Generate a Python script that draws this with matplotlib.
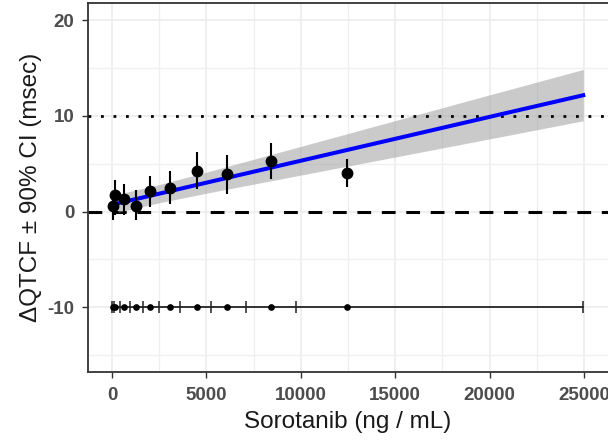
import matplotlib
matplotlib.use("Agg")
import matplotlib.pyplot as plt
import numpy as np

# ---- data ----
conc_bins = [30, 160, 610, 1295, 2030, 3095, 4515, 6100, 8410, 12455]        # ng/mL (decile medians)
dqtcf = [0.63, 1.75, 1.30, 0.63, 2.10, 2.45, 4.26, 3.91, 5.31, 4.08]        # msec
dqtcf_lo = [-0.9, -0.35, -0.35, -0.87, 0.53, 0.80, 2.34, 1.82, 3.42, 2.62]
dqtcf_hi = [1.93, 3.25, 2.90, 2.27, 3.74, 4.26, 6.22, 5.86, 7.16, 5.52]

decile_edges = [0, 90, 410, 930, 1640, 2500, 3620, 5220, 7100, 9770, 24930]  # ng/mL

fit_x = [330, 2500, 5000, 10000, 15000, 20000, 24960]
fit_y = [0.88, 1.87, 3.02, 5.31, 7.60, 9.89, 12.15]
fit_lo = [-0.07, 0.92, 1.92, 3.81, 5.70, 7.59, 9.48]
fit_hi = [1.83, 2.82, 4.12, 6.81, 9.50, 12.19, 14.84]

ref_dotted = 10
ref_dashed = 0
rug_y = -10

x_major = [0, 5000, 10000, 15000, 20000, 25000]
x_minor = [2500, 7500, 12500, 17500, 22500]
y_major = [-10, 0, 10, 20]
y_minor = [-15, -5, 5, 15]

# ---- figure ----
plt.rcParams['font.family'] = ['Liberation Sans', 'DejaVu Sans']
plt.rcParams['axes.unicode_minus'] = False
fig = plt.figure(figsize=(6.08, 4.47), dpi=100)
W, H = 608, 447
ax = fig.add_axes([88.4 / W, (H - 372) / H, 519.2 / W, 368.7 / H])
ax.set_xlim(-1250, 26250)
ax.set_ylim(-16.75, 21.75)

ax.set_xticks(x_major)
ax.set_xticks(x_minor, minor=True)
ax.set_yticks(y_major)
ax.set_yticks(y_minor, minor=True)
ax.grid(True, which='major', color='#EBEBEB', lw=1.1, zorder=0)
ax.grid(True, which='minor', color='#EFEFEF', lw=0.9, zorder=0)
ax.set_axisbelow(True)
ax.tick_params(which='minor', length=0)
ax.tick_params(which='major', length=4.5, width=1.0, color='#333333',
               labelsize=13.5, labelcolor='#4D4D4D')
ax.tick_params(axis='x', pad=6)
ax.tick_params(axis='y', pad=5.5)
for lab in ax.get_xticklabels() + ax.get_yticklabels():
    lab.set_fontweight('bold')

for s in ['top', 'left', 'bottom']:
    ax.spines[s].set_color('#333333')
    ax.spines[s].set_linewidth(1.3)
ax.spines['right'].set_visible(False)

# reference lines
ax.axhline(ref_dotted, color='black', lw=2.0, linestyle=(0, (1, 3.5)), zorder=4)
ax.axhline(ref_dashed, color='black', lw=2.2, linestyle=(0, (4.5, 3.5)), zorder=2)

# regression band and line
ax.fill_between(fit_x, fit_lo, fit_hi, color='#A0A0A0', alpha=0.55, lw=0, zorder=3)
ax.plot(fit_x, fit_y, color='#0000FF', lw=2.9, zorder=5)

# observed points with 90% CI
yerr = [np.array(dqtcf) - np.array(dqtcf_lo), np.array(dqtcf_hi) - np.array(dqtcf)]
ax.errorbar(conc_bins, dqtcf, yerr=yerr, fmt='o', color='black', ms=7.5,
            elinewidth=1.5, capsize=0, zorder=6)

# concentration deciles rug
ax.plot([decile_edges[0], decile_edges[-1]], [rug_y, rug_y], color='black', lw=1.1, zorder=6)
ax.plot(decile_edges, [rug_y] * len(decile_edges), linestyle='none', marker='|',
        color='#222222', ms=8.4, mew=1.1, zorder=6)
ax.plot(conc_bins, [rug_y] * len(conc_bins), linestyle='none', marker='o',
        color='black', ms=3.8, zorder=7)

ax.set_xlabel('Sorotanib (ng / mL)', fontsize=17.5, color='#1A1A1A', labelpad=5)
ax.set_ylabel('ΔQTCF ± 90% CI (msec)', fontsize=17.5, color='#1A1A1A', labelpad=4)

fig.savefig('out.png', dpi=100)
